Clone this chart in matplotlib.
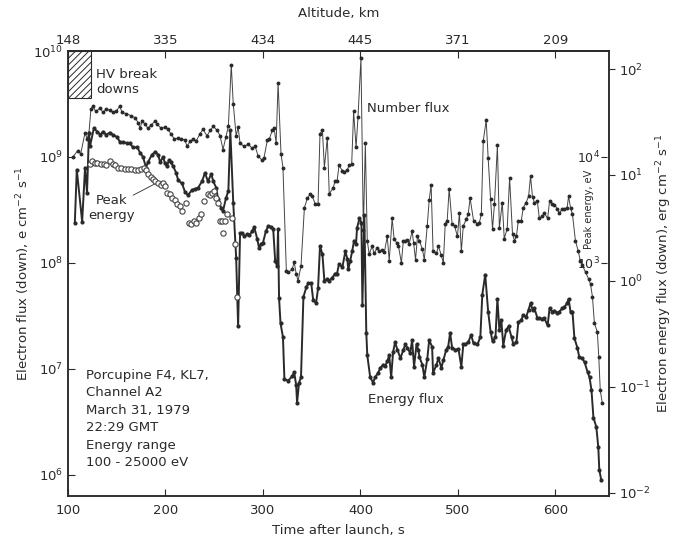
import numpy as np
import matplotlib
matplotlib.use("Agg")
import matplotlib.pyplot as plt
from matplotlib.patches import Rectangle
from matplotlib.ticker import NullLocator

# Porcupine F4 electron data
# times in s after launch, fluxes as log10 values

num_t = [105, 110, 113, 117.5, 119.5, 121.5, 123.5, 125.5, 128.5, 133, 136, 139, 143, 146,
         149.5, 153, 155.5, 159.5, 164.5, 169, 172, 174, 176, 179, 182, 185, 189.5, 191.5,
         195.5, 199.5, 202.5, 205.5, 209, 213, 216, 220, 222, 225.5, 228.5, 231.5, 235.5,
         238.5, 242.5, 246, 249, 253, 256, 259, 262, 264.5, 267.5, 269.5, 272.5, 274.5,
         276.5, 280.5, 285, 289, 292, 295, 299, 301, 304.5, 306.5, 309.5, 311.5, 313.5,
         315.5, 318.5, 320.5, 324, 326, 330, 332, 334, 336, 339, 342.5, 345.5, 348.5, 350.5,
         353.5, 356.5, 358.5, 361, 363, 366, 368, 372, 374, 376, 378, 381.5, 383.5, 386.5,
         388.5, 391, 393, 395.5, 397.5, 400.5, 403, 405, 407, 409, 412, 414, 417, 419.5,
         422.5, 424.5, 427.5, 429.5, 432.5, 434.5, 437, 439, 442, 444, 446, 448, 450, 453,
         454.5, 456.5, 458.5, 460.5, 463.5, 465.5, 468.5, 470.5, 472.5, 474.5, 478, 480, 483,
         485, 487, 489, 491, 494, 496.5, 499.5, 501.5, 503.5, 505.5, 508.5, 510.5, 512.5, 516,
         520, 522, 524, 526, 529, 531, 533.5, 535.5, 537.5, 540.5, 542.5, 545.5, 547.5, 550.5,
         553, 556, 558, 560, 562, 565, 567, 570, 572.5, 574.5, 576.5, 578.5, 581.5, 583.5,
         586.5, 588.5, 592, 594, 597, 599, 602, 604, 607, 609, 612, 613.5, 615.5, 617.5,
         620.5, 623.5, 625.5, 627.5, 631, 634, 636, 638, 640, 643, 644.5, 646, 648]
num_log = [9.00, 9.06, 9.03, 9.23, 9.17, 9.23, 9.45, 9.48, 9.43, 9.46, 9.42, 9.45, 9.44, 9.42,
           9.43, 9.48, 9.42, 9.41, 9.39, 9.37, 9.32, 9.27, 9.34, 9.31, 9.27, 9.30, 9.34, 9.31,
           9.27, 9.28, 9.26, 9.22, 9.17, 9.18, 9.17, 9.16, 9.10, 9.15, 9.17, 9.15, 9.22,
           9.26, 9.20, 9.25, 9.29, 9.25, 9.20, 9.07, 9.19, 9.29, 9.87, 9.50, 9.20, 9.28,
           9.13, 9.10, 9.12, 9.08, 9.10, 9.01, 8.97, 8.99, 9.16, 9.17, 9.25, 9.27, 9.13,
           9.70, 9.03, 8.90, 7.92, 7.91, 7.94, 8.01, 7.90, 7.83, 7.97, 8.52, 8.61, 8.65, 8.63,
           8.56, 8.56, 9.22, 9.25, 8.90, 9.18, 8.65, 8.71, 8.77, 8.77, 8.92, 8.87, 8.86, 8.88,
           8.92, 8.93, 9.43, 9.09, 9.38, 9.93, 8.31, 9.13, 8.21, 8.08, 8.16, 8.09, 8.14, 8.11,
           8.12, 8.10, 8.25, 8.02, 8.42, 8.23, 8.19, 8.16, 8.00, 8.21, 8.21, 8.22, 8.18, 8.30,
           8.19, 8.03, 8.25, 8.21, 8.13, 8.03, 8.35, 8.59, 8.74, 8.11, 8.09, 8.16, 8.07,
           8.00, 8.37, 8.40, 8.70, 8.37, 8.35, 8.25, 8.47, 8.11, 8.35, 8.41, 8.46, 8.61, 8.40,
           8.37, 8.38, 8.46, 9.15, 9.35, 8.99, 8.60, 8.32, 8.56, 9.11, 8.33, 8.57, 8.23, 8.32,
           8.80, 8.27, 8.21, 8.25, 8.40, 8.40, 8.52, 8.57, 8.63, 8.82, 8.62, 8.57, 8.58, 8.42,
           8.44, 8.47, 8.42, 8.58, 8.56, 8.55, 8.51, 8.47, 8.51, 8.51, 8.52, 8.63, 8.52, 8.46,
           8.21, 8.11, 8.02, 7.98, 7.91, 7.85, 7.80, 7.68, 7.43, 7.35, 7.11, 6.80, 6.68]

en_t = [107, 109, 114.5, 117.5, 119.5, 121.5, 122.5, 126.5, 130, 133, 136, 139, 143, 146, 150,
        153.5, 156.5, 160.5, 163.5, 166.5, 171, 174, 177, 180, 182, 186, 189.5, 192.5, 194.5,
        197.5, 199.5, 201.5, 203.5, 205.5, 208, 211, 213, 217, 220, 223, 227.5, 230.5, 233.5,
        237.5, 240.5, 243.5, 247, 249, 252, 254, 257, 259, 262, 264.5, 266.5, 269.5, 272.5,
        274.5, 276.5, 279, 281, 284, 286, 289, 291, 294, 296, 298, 300, 303, 305.5, 308.5,
        310.5, 312.5, 314.5, 315.5, 316.5, 318, 320.5, 322, 326, 330, 332, 334, 335, 337, 339,
        341.5, 344.5, 346.5, 349.5, 351.5, 354.5, 356.5, 358.5, 361, 363, 366, 368, 371, 374,
        376, 378, 381.5, 384.5, 386.5, 387.5, 389.5, 391.5, 393.5, 395.5, 396.5, 399, 401,
        402, 404, 406, 407, 410, 413, 415, 418, 420.5, 423.5, 425.5, 427.5, 429.5, 431.5,
        433.5, 435.5, 438, 441, 444, 446, 448, 451, 453, 455, 457.5, 459.5, 460.5, 463.5,
        465.5, 468.5, 470.5, 473.5, 474.5, 478, 480, 483, 485, 488, 490, 492, 494, 497.5,
        500.5, 503.5, 505.5, 507.5, 510.5, 513.5, 516, 520, 523, 525, 528, 531, 533.5, 535.5,
        538.5, 540.5, 542.5, 544.5, 546.5, 549.5, 552, 555, 557, 560, 562, 565, 567, 570,
        572.5, 574.5, 576.5, 578.5, 581.5, 583.5, 586.5, 588.5, 592, 594, 597, 599, 602, 604,
        607, 609, 612, 613.5, 615.5, 617.5, 619.5, 622.5, 624.5, 627.5, 630, 633, 635, 637,
        639, 642, 644, 645, 647]
en_log = [0.55, 1.05, 0.56, 1.07, 0.83, 1.40, 1.27, 1.44, 1.41, 1.38, 1.41, 1.38, 1.40, 1.38, 1.36,
          1.31, 1.31, 1.30, 1.30, 1.26, 1.26, 1.21, 1.17, 1.07, 1.12, 1.19, 1.22, 1.19, 1.12,
          1.17, 1.11, 1.08, 1.14, 1.12, 1.08, 1.02, 0.95, 0.92, 0.84, 0.81, 0.86, 0.87, 0.88,
          0.94, 1.02, 0.94, 1.01, 0.94, 0.88, 0.77, 0.69, 0.66, 0.78, 0.85, 1.42, 0.74, 0.22,
          -0.43, 0.45, 0.45, 0.42, 0.44, 0.43, 0.47, 0.51, 0.40, 0.31, 0.35, 0.36, 0.47, 0.52, 0.51,
          0.49, 0.19, 0.14, 0.49, -0.16, -0.40, -0.53, -0.93, -0.94, -0.90, -0.86, -0.98, -1.15, -0.96, -0.91,
          -0.15, -0.06, -0.02, -0.02, -0.18, -0.21, -0.07, 0.33, 0.25, 0.00, 0.02, 0.00, 0.03, 0.07,
          0.07, 0.16, 0.13, 0.28, 0.21, 0.11, 0.19, 0.28, 0.38, 0.35, 0.50, 0.59, 0.55,
          -0.23, 0.62, -0.49, -0.70, -0.91, -0.96, -0.91, -0.87, -0.82, -0.79, -0.80, -0.76, -0.70, -0.91,
          -0.67, -0.58, -0.65, -0.73, -0.65, -0.60, -0.63, -0.68, -0.56, -0.81, -0.60, -0.65, -0.72, -0.79,
          -0.91, -0.74, -0.56, -0.62, -0.87, -0.79, -0.73, -0.82, -0.75, -0.65, -0.62, -0.49, -0.63, -0.65,
          -0.64, -0.81, -0.60, -0.60, -0.58, -0.51, -0.59, -0.60, -0.53, -0.13, 0.06, -0.29, -0.48, -0.57,
          -0.53, -0.17, -0.46, -0.37, -0.61, -0.46, -0.43, -0.53, -0.60, -0.58, -0.39, -0.37, -0.32, -0.34,
          -0.27, -0.21, -0.27, -0.26, -0.35, -0.35, -0.36, -0.35, -0.42, -0.26, -0.29, -0.28, -0.30, -0.29,
          -0.26, -0.25, -0.21, -0.17, -0.29, -0.29, -0.54, -0.63, -0.72, -0.73, -0.77, -0.86, -0.91, -1.03,
          -1.29, -1.38, -1.57, -1.78, -1.88]

pk_t = [122.5, 124.5, 127.5, 130, 134, 137, 139, 143, 146, 148.5, 151.5, 154.5, 158.5, 161.5,
        164.5, 169, 172, 175, 178, 180, 182, 185, 187.5, 189.5, 192.5, 195.5, 197.5, 199.5,
        201.5, 204.5, 207, 210, 212, 215, 216.5, 221, 224, 226.5, 229.5, 231.5, 234.5, 236.5,
        239.5, 243.5, 246, 248, 250, 252, 254, 256, 258, 259, 261, 263, 268.5, 271.5, 273.5]
pk_log = [3.93, 3.96, 3.94, 3.94, 3.93, 3.93, 3.92, 3.96, 3.93, 3.92, 3.90, 3.90, 3.89, 3.89,
          3.89, 3.88, 3.88, 3.89, 3.90, 3.88, 3.84, 3.81, 3.79, 3.77, 3.75, 3.74, 3.75, 3.73,
          3.66, 3.65, 3.61, 3.59, 3.56, 3.54, 3.49, 3.57, 3.38, 3.37, 3.40, 3.38, 3.42, 3.46,
          3.58, 3.65, 3.64, 3.66, 3.68, 3.61, 3.57, 3.40, 3.40, 3.28, 3.40, 3.46, 3.42, 3.18, 2.68]

time_ticks = [100, 200, 300, 400, 500, 600]
alt_km = ['148', '335', '434', '445', '371', '209']

# HV break down period (s) and lower edge of the hatched box
hv_t = [100, 124]
hv_low = 3.6e9

ink = '#2a2a2a'
plt.rcParams['font.family'] = 'DejaVu Sans'
plt.rcParams['font.size'] = 9.5
plt.rcParams['hatch.linewidth'] = 0.7
plt.rcParams['axes.edgecolor'] = ink
plt.rcParams['axes.linewidth'] = 1.1

fig = plt.figure(figsize=(6.74, 5.41), dpi=100)
ax = fig.add_axes([0.1009, 0.0832, 0.8027, 0.8225])
ax2 = ax.twinx()
ax3 = ax.twinx()

# number flux (left axis)
ax.plot(num_t, 10**np.array(num_log), '-', color='#444444', lw=0.7,
        marker='o', ms=1.8, mfc=ink, mec=ink)
# energy flux (right axis)
ax2.plot(en_t, 10**np.array(en_log), '-', color=ink, lw=1.4,
         marker='o', ms=2.0, mfc=ink, mec=ink)
# peak energy (inner axis)
ax3.plot(pk_t, 10**np.array(pk_log), 'o', ms=3.8, mfc='white', mec='#444444', mew=0.8)

ax.set_xlim(100, 655)
ax.set_yscale('log')
ax.set_ylim(10**5.8, 1e10)
ax.set_yticks([1e6, 1e7, 1e8, 1e9, 1e10])
ax.yaxis.set_minor_locator(NullLocator())
ax.set_xticks(time_ticks)
ax.tick_params(axis='both', direction='in', length=5, color=ink, labelcolor=ink)
ax.tick_params(axis='x', pad=6)
ax.set_xlabel('Time after launch, s', color=ink, labelpad=5)
ax.set_ylabel('Electron flux (down), e cm$^{-2}$ s$^{-1}$', color=ink, labelpad=1)

ax2.set_yscale('log')
ax2.set_ylim(10**-2.03, 10**2.17)
ax2.set_yticks([1e-2, 1e-1, 1e0, 1e1, 1e2])
ax2.yaxis.set_minor_locator(NullLocator())
ax2.tick_params(axis='y', direction='out', length=4, color=ink, labelcolor=ink)
ax2.set_ylabel('Electron energy flux (down), erg cm$^{-2}$ s$^{-1}$', color=ink, labelpad=2)

# inner peak-energy scale
ax3.set_yscale('log')
ax3.set_ylim(10**0.8, 10**5.0)
for s in ax3.spines.values():
    s.set_visible(False)
ax3.yaxis.set_ticks_position('left')
ax3.yaxis.set_label_position('left')
ax3.spines['left'].set_position(('axes', 0.9965))
ax3.set_yticks([1e3, 1e4])
ax3.yaxis.set_minor_locator(NullLocator())
ax3.tick_params(axis='y', direction='out', length=4, pad=1, labelsize=9, color=ink, labelcolor=ink)
ax3.set_ylabel('Peak energy, eV', fontsize=7, color=ink)
ax3.yaxis.set_label_coords(0.972, 0.643)

# altitude along the top
top = ax.secondary_xaxis('top')
top.set_xticks(time_ticks, alt_km)
top.tick_params(direction='in', length=5, color=ink, labelcolor=ink, pad=3)
top.set_xlabel('Altitude, km', color=ink, labelpad=12)

# HV break down box
ax.add_patch(Rectangle((hv_t[0], hv_low), hv_t[1] - hv_t[0], 1e10 - hv_low,
                       fill=False, hatch='/////', lw=0.8, edgecolor=ink, zorder=3))

ax.text(128.5, 10**9.84, 'HV break\ndowns', va='top', ha='left', color=ink, linespacing=1.25)
ax.text(407, 10**9.46, 'Number flux', va='center', ha='left', color=ink)
ax.text(408, 10**6.71, 'Energy flux', va='center', ha='left', color=ink)
ax.text(145, 10**8.52, 'Peak\nenergy', va='center', ha='center', color=ink, linespacing=1.15)
ax.plot([167, 191], [10**8.64, 10**8.755], color=ink, lw=0.6)
ax.text(118.5, 10**7.0, 'Porcupine F4, KL7,\nChannel A2\nMarch 31, 1979\n22:29 GMT\nEnergy range\n100 - 25000 eV',
        va='top', ha='left', color=ink, linespacing=1.45)

fig.savefig('out.png', dpi=100)
